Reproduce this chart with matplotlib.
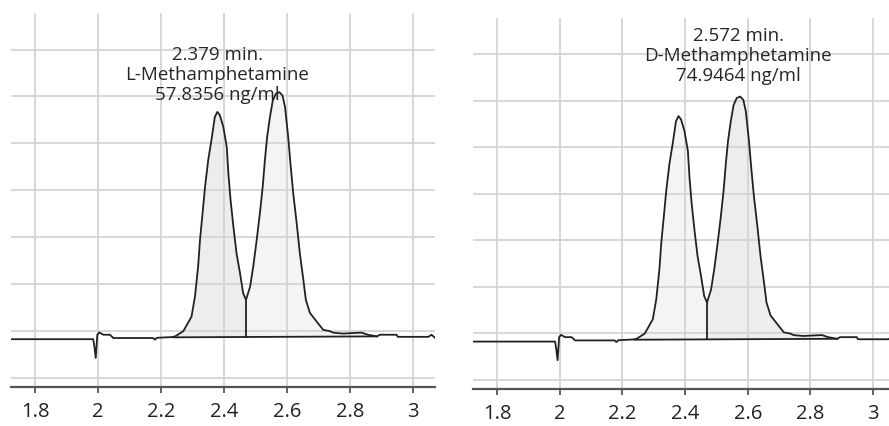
import matplotlib.pyplot as plt
import numpy as np

# chromatogram trace (retention time in min, detector response in grid units)
trace_x = [1.724, 1.985, 1.989, 1.993, 1.998, 2.004, 2.017, 2.038, 2.049, 2.175,
           2.181, 2.187, 2.234, 2.245, 2.271, 2.297, 2.308, 2.318, 2.324, 2.332,
           2.340, 2.350, 2.361, 2.371, 2.379, 2.387, 2.398, 2.409, 2.414, 2.421,
           2.430, 2.440, 2.451, 2.461, 2.470, 2.483, 2.493, 2.504, 2.514, 2.523,
           2.530, 2.537, 2.546, 2.555, 2.565, 2.576, 2.586, 2.594, 2.604, 2.612,
           2.620, 2.631, 2.641, 2.652, 2.660, 2.673, 2.694, 2.715, 2.737, 2.746,
           2.778, 2.805, 2.837, 2.857, 2.886, 2.895, 2.948, 2.952, 3.049, 3.059,
           3.070]
trace_y = [-0.18, -0.18, -0.35, -0.58, -0.085, -0.036, -0.085, -0.085, -0.155, -0.155,
           -0.19, -0.15, -0.135, -0.12, -0.01, 0.30, 0.73, 1.37, 1.94, 2.50,
           3.07, 3.64, 4.10, 4.56, 4.67, 4.60, 4.35, 3.92, 3.36, 2.79,
           2.22, 1.65, 1.23, 0.80, 0.66, 0.94, 1.37, 1.94, 2.50, 3.07,
           3.64, 4.13, 4.56, 4.91, 5.06, 5.09, 5.02, 4.77, 4.13, 3.50,
           2.93, 2.29, 1.65, 1.09, 0.66, 0.38, 0.20, 0.02, -0.01, -0.04,
           -0.06, -0.05, -0.04, -0.085, -0.12, -0.085, -0.085, -0.13, -0.13, -0.085,
           -0.15]

# integration: peak start, valley split, peak end and baseline levels
peak_start, peak_valley, peak_end = 2.239, 2.470, 2.886
base_start, base_end = -0.14, -0.12
valley_y = 0.66

panels = [
    {"label": "2.379 min.\nL-Methamphetamine\n57.8356 ng/ml", "pos": (2.378, 5.45), "selected": 0,
     "rect": [11 / 889, 39 / 426, 424 / 889, 374 / 426], "xlim": (1.724, 3.070)},
    {"label": "2.572 min.\nD-Methamphetamine\n74.9464 ng/ml", "pos": (2.570, 5.96), "selected": 1,
     "rect": [473 / 889, 37 / 426, 416 / 889, 371 / 426], "xlim": (1.723, 3.051)},
]

xticks = [1.8, 2, 2.2, 2.4, 2.6, 2.8, 3]
xticklabels = ["1.8", "2", "2.2", "2.4", "2.6", "2.8", "3"]
ygrid = [-1, 0, 1, 2, 3, 4, 5, 6]

plt.rcParams["font.family"] = ["Open Sans", "DejaVu Sans"]

fig = plt.figure(figsize=(8.89, 4.26), dpi=100)
x = np.array(trace_x)
y = np.array(trace_y)
base = np.interp(x, [peak_start, peak_end], [base_start, base_end])

for p in panels:
    ax = fig.add_axes(p["rect"])
    ax.set_xlim(*p["xlim"])
    ax.set_ylim(-1.2, 6.78)

    # grid, drawn over the light fills
    for gx in xticks:
        ax.axvline(gx, color="#d4d4d4", lw=1.3, zorder=2)
    for gy in ygrid:
        ax.axhline(gy, color="#d4d4d4", lw=1.3, zorder=2)

    # peak fills, the selected one a touch darker
    fills = [(x >= peak_start) & (x <= peak_valley), (x >= peak_valley) & (x <= peak_end)]
    for i, mask in enumerate(fills):
        col = "#ededed" if i == p["selected"] else "#f4f4f4"
        ax.fill_between(x[mask], base[mask], y[mask], color=col, lw=0, zorder=1)

    ax.plot(x, y, color="#222222", lw=1.3, zorder=3)
    ax.plot([peak_start, peak_end], [base_start, base_end], color="#222222", lw=1.3, zorder=3)
    vb = np.interp(peak_valley, [peak_start, peak_end], [base_start, base_end])
    ax.plot([peak_valley, peak_valley], [vb, valley_y], color="#222222", lw=1.3, zorder=3)

    ax.text(p["pos"][0], p["pos"][1], p["label"], ha="center", va="center",
            multialignment="center", fontsize=13.5, color="#262626", linespacing=1.15, zorder=4)

    for s in ["top", "left", "right"]:
        ax.spines[s].set_visible(False)
    ax.spines["bottom"].set_color("#555555")
    ax.spines["bottom"].set_linewidth(1.6)
    ax.set_yticks([])
    ax.set_xticks(xticks)
    ax.set_xticklabels(xticklabels)
    ax.tick_params(axis="x", length=4.5, width=1.3, color="#555555",
                   labelsize=14.5, labelcolor="#222222", pad=6)
    ax.patch.set_alpha(0)

fig.savefig("out.png", dpi=100)
